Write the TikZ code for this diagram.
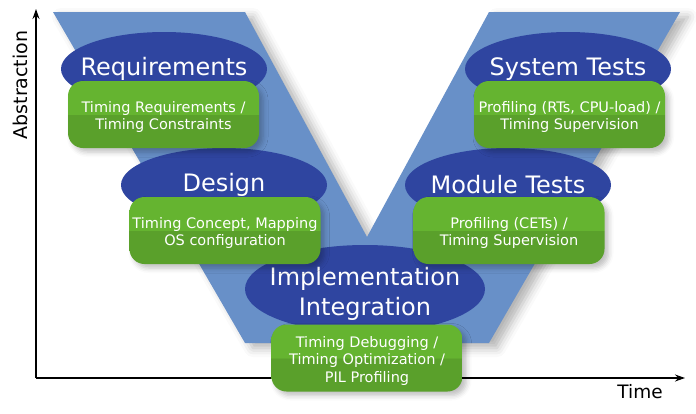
\documentclass[tikz,border=0pt]{standalone}
\usepackage{fontspec}
\setmainfont{DejaVu Sans}
\usetikzlibrary{shapes.geometric,arrows.meta,shadows.blur}
\definecolor{vblue}{RGB}{104,144,200}
\definecolor{phaseblue}{RGB}{47,69,160}
\definecolor{tasklight}{RGB}{101,180,48}
\definecolor{taskdark}{RGB}{90,160,43}
\pgfdeclareverticalshading{tasksplit}{100bp}{color(0bp)=(taskdark); color(50bp)=(taskdark); color(50bp)=(tasklight); color(100bp)=(tasklight)}

\begin{document}
\begin{tikzpicture}[x=1pt, y=-1pt,
    phasetext/.style = {text=white, align=center, font=\fontsize{24}{30}\selectfont},
    phase/.style 2 args = {shape=ellipse, fill=phaseblue, inner sep=0pt,
      minimum width=206pt, minimum height=74pt, label={[phasetext, yshift=#2]center:#1}},
    tasktext/.style = {text=white, align=center, yshift=-2.5pt, font=\fontsize{14.5}{17.5}\selectfont},
    task/.style = {shape=rectangle, rounded corners=15pt, shading=tasksplit,
      minimum width=191pt, minimum height=67pt, inner sep=0pt, label={[tasktext]center:#1},
      blur shadow={shadow xshift=4pt, shadow yshift=-4pt, shadow blur radius=5pt, shadow opacity=25}},
    axis/.style = {line width=1.2pt, -{Stealth[length=10pt, width=7pt]}}]
  \useasboundingbox (0,0) rectangle (696,413);

  % axes
  \coordinate (origin) at (36,378);
  \coordinate (ytop) at (36,9);
  \coordinate (xend) at (685,378);
  \draw[axis] (origin) -- (ytop);
  \draw[axis] (origin) -- (xend);
  \node[rotate=90, font=\fontsize{19}{19}\selectfont] (abstr) at (20,85) {Abstraction};
  \node[font=\fontsize{18.5}{18.5}\selectfont] (time) at (640,392) {Time};

  % the V
  \fill[vblue, blur shadow={shadow xshift=8pt, shadow yshift=-5pt, shadow blur radius=9pt, shadow opacity=30}]
    (53,12) -- (245,12) -- (367,237) -- (489,12) -- (680,12) -- (489,343) -- (245,343) -- cycle;

  % phases
  \node[phase={Requirements}{0pt}] (req) at (164,69) {};
  \node[phase={Design}{0pt}] (design) at (224,185) {};
  \node[phase={Implementation\\Integration}{-4.5pt}, minimum width=240pt, minimum height=88pt] (impl) at (365,289) {};
  \node[phase={Module Tests}{0pt}] (mtest) at (508,185) {};
  \node[phase={System Tests}{0pt}] (stest) at (568,69) {};

  % timing tasks
  \node[task={Timing Requirements /\\Timing Constraints}] (reqtask) at (163.5,114.5) {};
  \node[task={Timing Concept, Mapping\\OS configuration}] (designtask) at (225,230.5) {};
  \node[task={Timing Debugging /\\Timing Optimization /\\PIL Profiling}] (impltask) at (367,358) {};
  \node[task={Profiling (CETs) /\\Timing Supervision}] (mtesttask) at (509,230.5) {};
  \node[task={Profiling (RTs, CPU-load) /\\Timing Supervision}] (stesttask) at (569.5,114.5) {};
\end{tikzpicture}
\end{document}
